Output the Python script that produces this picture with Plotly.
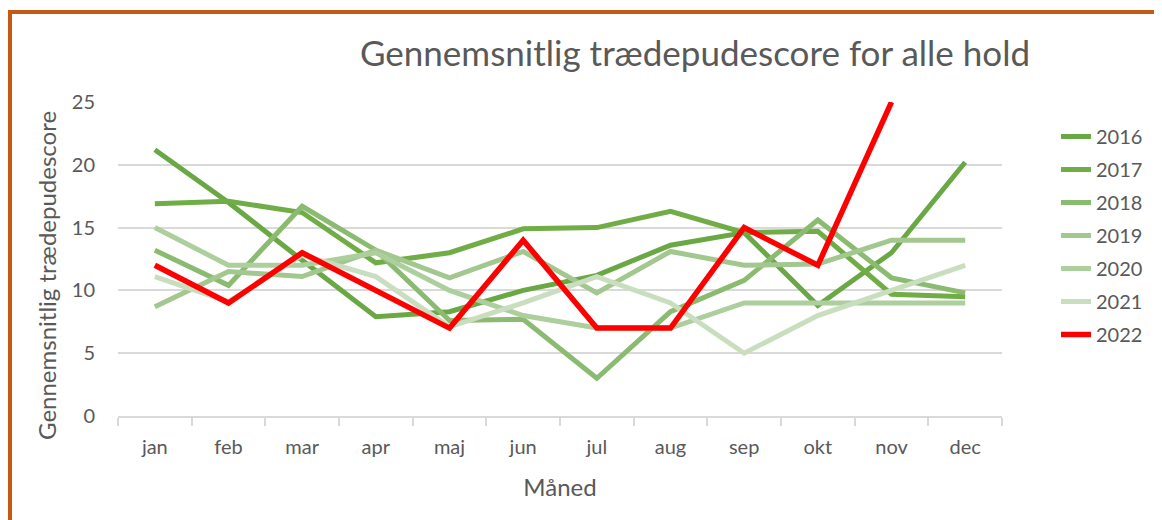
import plotly.graph_objects as go

months = ["jan", "feb", "mar", "apr", "maj", "jun", "jul", "aug", "sep", "okt", "nov", "dec"]

y2016 = [21.2, 17.0, 12.4, 7.9, 8.3, 10.0, 11.2, 13.6, 14.6, 8.8, 13.0, 20.2]
y2017 = [16.9, 17.1, 16.2, 12.2, 13.0, 14.9, 15.0, 16.3, 14.6, 14.7, 9.7, 9.5]
y2018 = [13.2, 10.4, 16.7, 13.2, 7.6, 7.7, 3.0, 8.3, 10.8, 15.6, 11.0, 9.8]
y2019 = [8.7, 11.5, 11.1, 13.2, 11.0, 13.1, 9.8, 13.1, 12.0, 12.1, 14.0, 14.0]
y2020 = [15.0, 12.0, 12.0, 13.0, 10.0, 8.0, 7.0, 7.0, 9.0, 9.0, 9.0, 9.0]
y2021 = [11.1, 9.1, 12.8, 11.1, 7.1, 9.0, 11.1, 9.0, 5.0, 8.0, 10.0, 12.0]
y2022 = [12.0, 9.0, 13.0, 10.0, 7.0, 14.0, 7.0, 7.0, 15.0, 12.0, 25.0, None]

series = [
    ("2016", y2016, "#6AA845", 5.0),
    ("2017", y2017, "#70AD47", 5.0),
    ("2018", y2018, "#8BBB70", 5.0),
    ("2019", y2019, "#A2C78F", 5.0),
    ("2020", y2020, "#ADCE9D", 5.0),
    ("2021", y2021, "#C9DEBE", 5.0),
    ("2022", y2022, "#FF0000", 5.5),
]

TXT = "#595959"
FONT = "Lato"

fig = go.Figure()
for name, vals, col, w in series:
    fig.add_trace(go.Scatter(
        x=months, y=vals, name=name, mode="lines",
        line=dict(color=col, width=w),
        legendgroup=name, connectgaps=False,
    ))

# page offset (browser body margin) and plot area in window pixels
OFF = 8
L, R, T, B = 118, 1002, 102, 416
WIN_W, WIN_H = 1162, 520
W, H = WIN_W - OFF, WIN_H - OFF

def px_x(p):
    return (p - L) / (R - L)

def px_y(p):
    return (B - p) / (B - T)

fig.update_layout(
    width=W, height=H,
    margin=dict(l=L - OFF, r=WIN_W - R, t=T - OFF, b=WIN_H - B),
    paper_bgcolor="white", plot_bgcolor="white",
    font=dict(family=FONT, color=TXT, size=20),
    title=dict(
        text="Gennemsnitlig trædepudescore for alle hold",
        font=dict(family=FONT, size=35, color=TXT),
        xref="paper", x=px_x(695), xanchor="center",
        yref="container", y=1 - (54 - OFF) / H, yanchor="middle",
    ),
    legend=dict(
        x=px_x(1056), xanchor="left",
        y=px_y(117), yanchor="top",
        font=dict(family=FONT, size=20, color=TXT),
        tracegroupgap=4,
        bgcolor="rgba(0,0,0,0)",
    ),
    xaxis=dict(
        type="category",
        range=[-0.5, 11.5],
        showgrid=False,
        showline=True, linecolor="#D9D9D9", linewidth=1.5,
        ticks="outside", tickson="boundaries", ticklen=8, tickcolor="#D9D9D9", tickwidth=1.5,
        ticklabelstandoff=12,
        tickfont=dict(family=FONT, size=20, color=TXT),
        title=dict(text="Måned", font=dict(family=FONT, size=24, color=TXT), standoff=22),
        fixedrange=True,
    ),
    yaxis=dict(
        range=[0, 25], dtick=5, tick0=0,
        showgrid=True, gridcolor="#D9D9D9", gridwidth=1.5,
        zeroline=False, showline=False,
        ticks="", ticklabelstandoff=22,
        tickfont=dict(family=FONT, size=20, color=TXT),
        fixedrange=True,
    ),
    showlegend=True,
)

# y-axis title (placed as in the reference, slightly below the plot centre)
fig.add_annotation(
    text="Gennemsnitlig trædepudescore",
    xref="paper", yref="paper",
    x=px_x(46), y=px_y(276),
    xanchor="center", yanchor="middle",
    textangle=-90, showarrow=False,
    font=dict(family=FONT, size=24, color=TXT),
)

# orange frame (top and left edges of the chart container)
fig.add_shape(
    type="path", xref="paper", yref="paper",
    path=f"M {px_x(10)},{px_y(540)} L {px_x(10)},{px_y(12)} L {px_x(1180)},{px_y(12)}",
    line=dict(color="#C55A11", width=4), layer="above",
)

fig.write_html("out.html")
